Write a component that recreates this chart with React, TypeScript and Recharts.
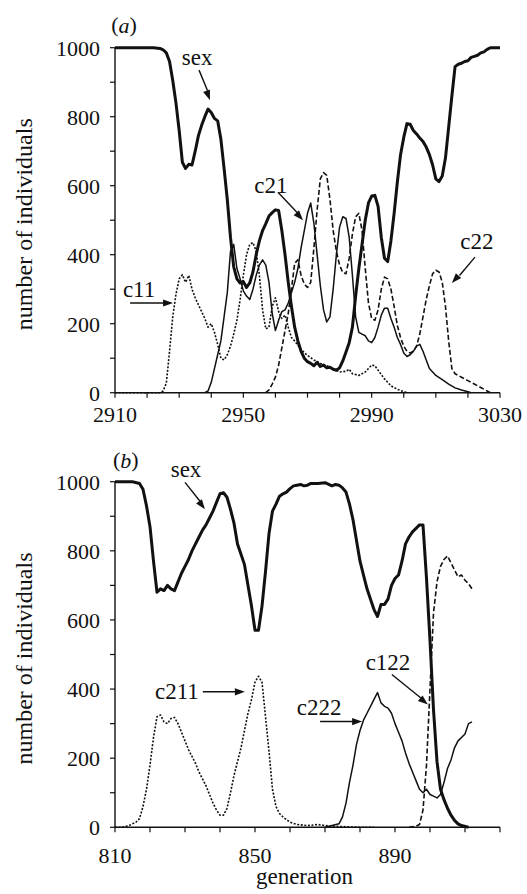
import { LineChart, Line, XAxis, YAxis, ReferenceLine, ReferenceDot } from 'recharts';

const FONT = "'Liberation Serif', 'Times New Roman', Times, serif";
const INK = '#111';

type Pt = [number, number];

// shared y axis
const yTicks = [0, 100, 200, 300, 400, 500, 600, 700, 800, 900, 1000];
const yLabels = [0, 200, 400, 600, 800, 1000];

// panel (a)
const ticksA = [2910, 2920, 2930, 2940, 2950, 2960, 2970, 2980, 2990, 3000, 3010, 3020, 3030];
const labelsA = [2910, 2950, 2990, 3030];

const sexA: Pt[] = [
  [2910, 1000], [2916, 1000], [2922, 1000], [2924, 998], [2925, 994], [2926, 985], [2927, 960], [2928, 905],
  [2929, 840], [2930, 760], [2931, 668], [2932, 650], [2933, 662], [2934, 660], [2935, 700], [2936, 745],
  [2937, 775], [2938, 800], [2939, 822], [2940, 812], [2941, 795], [2942, 788], [2943, 735], [2944, 650],
  [2945, 560], [2946, 450], [2947, 365], [2948, 330], [2949, 318], [2950, 322], [2951, 305], [2952, 318],
  [2953, 350], [2954, 400], [2955, 440], [2956, 470], [2957, 490], [2958, 512], [2959, 522], [2960, 530],
  [2961, 528], [2962, 470], [2963, 400], [2964, 320], [2965, 250], [2966, 190], [2967, 150], [2968, 120],
  [2969, 100], [2970, 90], [2971, 85], [2972, 78], [2973, 88], [2974, 76], [2975, 80], [2976, 72],
  [2977, 74], [2978, 68], [2979, 65], [2980, 72], [2981, 92], [2982, 118], [2983, 145], [2984, 190],
  [2985, 280], [2986, 360], [2987, 430], [2988, 500], [2989, 550], [2990, 570], [2991, 572], [2992, 540],
  [2993, 450], [2994, 390], [2995, 380], [2996, 440], [2997, 520], [2998, 610], [2999, 690], [3000, 740],
  [3001, 780], [3002, 778], [3003, 760], [3004, 750], [3005, 738], [3006, 728], [3007, 712], [3008, 690],
  [3009, 660], [3010, 620], [3011, 612], [3012, 628], [3013, 680], [3014, 770], [3015, 860], [3016, 945],
  [3017, 952], [3018, 955], [3019, 960], [3020, 962], [3021, 972], [3022, 975], [3023, 978], [3024, 985],
  [3025, 988], [3026, 995], [3027, 1000], [3030, 1000],
];

const c11A: Pt[] = [
  [2910, 0], [2920, 0], [2924, 0], [2925, 5], [2926, 28], [2927, 120], [2928, 220], [2929, 285],
  [2930, 330], [2931, 342], [2932, 320], [2933, 340], [2934, 300], [2935, 275], [2936, 255], [2937, 235],
  [2938, 215], [2939, 190], [2940, 200], [2941, 175], [2942, 140], [2943, 100], [2944, 95], [2945, 110],
  [2946, 135], [2947, 170], [2948, 210], [2949, 270], [2950, 340], [2951, 400], [2952, 430], [2953, 435],
  [2954, 410], [2955, 340], [2956, 240], [2957, 185], [2958, 190], [2959, 250], [2960, 275], [2961, 235],
  [2962, 215], [2963, 225], [2964, 190], [2965, 160], [2966, 150], [2968, 125], [2970, 108], [2972, 95],
  [2974, 85], [2976, 78], [2978, 70], [2980, 60], [2982, 62], [2983, 68], [2984, 55], [2986, 50],
  [2988, 60], [2990, 80], [2991, 78], [2992, 65], [2994, 40], [2996, 20], [2998, 10], [3000, 3],
  [3001, 0],
];

const c21A: Pt[] = [
  [2938, 0], [2939, 5], [2940, 30], [2941, 70], [2942, 110], [2943, 150], [2944, 220], [2945, 290],
  [2946, 410], [2947, 430], [2948, 360], [2949, 330], [2950, 295], [2951, 280], [2952, 270], [2953, 300],
  [2954, 340], [2955, 370], [2956, 385], [2957, 370], [2958, 320], [2959, 230], [2960, 180], [2961, 210],
  [2962, 235], [2963, 240], [2964, 260], [2965, 290], [2966, 320], [2967, 360], [2968, 420], [2969, 470],
  [2970, 520], [2971, 550], [2972, 490], [2973, 400], [2974, 310], [2975, 240], [2976, 205], [2977, 220],
  [2978, 300], [2979, 400], [2980, 480], [2981, 510], [2982, 505], [2983, 450], [2984, 340], [2985, 220],
  [2986, 175], [2987, 170], [2988, 165], [2989, 150], [2990, 145], [2991, 160], [2992, 190], [2993, 225],
  [2994, 245], [2995, 245], [2996, 215], [2997, 190], [2998, 160], [2999, 140], [3000, 115], [3001, 105],
  [3002, 110], [3003, 120], [3004, 135], [3005, 140], [3006, 120], [3007, 95], [3008, 70], [3009, 60],
  [3010, 50], [3012, 38], [3014, 25], [3016, 14], [3018, 8], [3020, 3], [3021, 0],
];

const c22A: Pt[] = [
  [2957, 0], [2958, 8], [2959, 25], [2960, 45], [2961, 80], [2962, 130], [2963, 180], [2964, 230],
  [2965, 300], [2966, 375], [2967, 385], [2968, 340], [2969, 315], [2970, 305], [2971, 320], [2972, 420],
  [2973, 530], [2974, 620], [2975, 638], [2976, 630], [2977, 560], [2978, 470], [2979, 410], [2980, 370],
  [2981, 348], [2982, 345], [2983, 390], [2984, 460], [2985, 510], [2986, 520], [2987, 470], [2988, 360],
  [2989, 260], [2990, 215], [2991, 210], [2992, 240], [2993, 300], [2994, 335], [2995, 330], [2996, 300],
  [2997, 250], [2998, 195], [2999, 160], [3000, 135], [3001, 120], [3002, 115], [3003, 120], [3004, 135],
  [3005, 170], [3006, 220], [3007, 270], [3008, 310], [3009, 345], [3010, 355], [3011, 350], [3012, 320],
  [3013, 250], [3014, 150], [3015, 70], [3016, 55], [3017, 50], [3018, 45], [3020, 35], [3022, 25],
  [3024, 15], [3026, 5], [3027, 0],
];

// panel (b)
const ticksB = [810, 820, 830, 840, 850, 860, 870, 880, 890, 900, 910, 920];
const labelsB = [810, 850, 890];

const sexB: Pt[] = [
  [810, 1000], [815, 1000], [817, 995], [818, 978], [819, 930], [820, 870], [821, 770], [822, 680],
  [823, 690], [824, 685], [825, 700], [826, 690], [827, 685], [828, 710], [829, 735], [830, 755],
  [831, 775], [832, 800], [833, 820], [834, 840], [835, 860], [836, 875], [837, 895], [838, 915],
  [839, 940], [840, 965], [841, 968], [842, 955], [843, 920], [844, 880], [845, 820], [846, 790],
  [847, 760], [848, 700], [849, 640], [850, 570], [851, 570], [852, 640], [853, 740], [854, 850],
  [855, 915], [856, 935], [857, 958], [858, 965], [859, 970], [860, 980], [861, 988], [862, 990],
  [863, 992], [864, 988], [865, 990], [866, 995], [868, 995], [870, 997], [872, 988], [873, 992],
  [874, 990], [875, 982], [876, 970], [877, 935], [878, 890], [879, 830], [880, 770], [881, 730],
  [882, 690], [883, 660], [884, 630], [885, 610], [886, 645], [887, 645], [888, 660], [889, 700],
  [890, 720], [891, 730], [892, 770], [893, 820], [894, 840], [895, 855], [896, 865], [897, 875],
  [898, 875], [899, 720], [900, 540], [901, 340], [902, 190], [903, 110], [904, 80], [905, 55],
  [906, 35], [907, 20], [908, 10], [909, 5], [911, 0],
];

const c211B: Pt[] = [
  [810, 0], [812, 0], [814, 5], [816, 15], [817, 25], [818, 60], [819, 110], [820, 180],
  [821, 260], [822, 320], [823, 325], [824, 305], [825, 300], [826, 315], [827, 318], [828, 300],
  [829, 275], [830, 250], [831, 225], [832, 205], [833, 185], [834, 160], [835, 140], [836, 120],
  [837, 95], [838, 70], [839, 50], [840, 35], [841, 35], [842, 55], [843, 100], [844, 150],
  [845, 190], [846, 230], [847, 280], [848, 330], [849, 370], [850, 420], [851, 437], [852, 420],
  [853, 320], [854, 220], [855, 110], [856, 60], [857, 40], [858, 30], [859, 22], [860, 15],
  [862, 8], [865, 5], [868, 8], [870, 5], [872, 3], [875, 2], [880, 0], [884, 0],
];

const c222B: Pt[] = [
  [870, 0], [872, 5], [874, 10], [875, 30], [876, 70], [877, 130], [878, 180], [879, 240],
  [880, 280], [881, 310], [882, 330], [883, 350], [884, 370], [885, 390], [886, 360], [887, 350],
  [888, 345], [889, 330], [890, 300], [891, 275], [892, 250], [893, 215], [894, 185], [895, 160],
  [896, 135], [897, 110], [898, 100], [899, 110], [900, 95], [901, 90], [902, 85], [903, 95],
  [904, 130], [905, 170], [906, 195], [907, 230], [908, 250], [909, 260], [910, 270], [911, 300],
  [912, 305],
];

const c122B: Pt[] = [
  [894, 0], [896, 3], [897, 8], [898, 50], [899, 180], [900, 400], [901, 620], [902, 710],
  [903, 755], [904, 775], [905, 785], [906, 765], [907, 745], [908, 725], [909, 730], [910, 715],
  [911, 705], [912, 690],
];

type Note = { text: string; at: Pt; from: Pt; to: Pt };

const notesA: Note[] = [
  { text: 'sex', at: [2935.6, 973], from: [2936.2, 935], to: [2939.6, 848] },
  { text: 'c21', at: [2958.6, 602], from: [2960.8, 581], to: [2968.6, 500] },
  { text: 'c22', at: [3022.8, 437], from: [3022.2, 393], to: [3015, 318] },
  { text: 'c11', at: [2917.5, 298], from: [2914.7, 260], to: [2928.1, 260] },
];

const notesB: Note[] = [
  { text: 'sex', at: [830.3, 1036], from: [830, 998], to: [835.7, 920] },
  { text: 'c211', at: [827.7, 392], from: [835.1, 392], to: [847.1, 392] },
  { text: 'c222', at: [868.3, 346], from: [868.6, 306], to: [880.6, 306] },
  { text: 'c122', at: [888, 476], from: [889.1, 442], to: [899.4, 355] },
];

type Series = { id: string; data: Pt[]; width: number; dash?: string };

const seriesA: Series[] = [
  { id: 'c11', data: c11A, width: 1.6, dash: '2 1.6' },
  { id: 'c22', data: c22A, width: 1.6, dash: '5 2.5' },
  { id: 'c21', data: c21A, width: 1.5 },
  { id: 'sex', data: sexA, width: 3 },
];

const seriesB: Series[] = [
  { id: 'c211', data: c211B, width: 1.6, dash: '2 1.6' },
  { id: 'c122', data: c122B, width: 1.6, dash: '5 2.5' },
  { id: 'c222', data: c222B, width: 1.5 },
  { id: 'sex', data: sexB, width: 3 },
];

function Arrow(p: any) {
  const { x1, y1, x2, y2 } = p;
  const a = Math.atan2(y2 - y1, x2 - x1);
  const len = 10;
  const half = 3.6;
  const bx = x2 - len * Math.cos(a);
  const by = y2 - len * Math.sin(a);
  const pts = `${x2},${y2} ${bx + half * Math.sin(a)},${by - half * Math.cos(a)} ${bx - half * Math.sin(a)},${by + half * Math.cos(a)}`;
  return (
    <g>
      <line x1={x1} y1={y1} x2={bx + 1} y2={by} stroke={INK} strokeWidth={1.4} />
      <polygon points={pts} fill={INK} />
    </g>
  );
}

interface PanelProps {
  top: number;
  height: number;
  margin: { top: number; right: number; bottom: number; left: number };
  domain: [number, number];
  ticks: number[];
  labels: number[];
  series: Series[];
  notes: Note[];
  tag: string;
  tagAt: Pt;
  tickGap: number;
  xAxisHeight: number;
  xTitle?: string;
}

function Panel({ top, height, margin, domain, ticks, labels, series, notes, tag, tagAt, tickGap, xAxisHeight, xTitle }: PanelProps) {
  const tickStyle = { fill: INK, fontSize: 22, fontFamily: FONT };
  return (
    <div style={{ position: 'absolute', left: 0, top }}>
      <LineChart width={527} height={height} margin={margin}>
        <XAxis
          type="number"
          dataKey="0"
          domain={domain}
          ticks={ticks}
          interval={0}
          tickFormatter={(v: number) => (labels.includes(v) ? String(v) : '')}
          tick={tickStyle}
          tickSize={5}
          tickMargin={tickGap}
          height={xAxisHeight}
          axisLine={{ stroke: INK, strokeWidth: 1.6 }}
          tickLine={{ stroke: INK, strokeWidth: 1.2 }}
          label={
            xTitle
              ? (props: any) => {
                  const vb = props.viewBox;
                  return (
                    <text x={vb.x + vb.width / 2 - 3} y={vb.y + 57} textAnchor="middle" fontFamily={FONT} fontSize={23} fill={INK}>
                      {xTitle}
                    </text>
                  );
                }
              : undefined
          }
        />
        <YAxis
          type="number"
          domain={[0, 1000]}
          ticks={yTicks}
          interval={0}
          tickFormatter={(v: number) => (yLabels.includes(v) ? String(v) : '')}
          tick={tickStyle}
          tickSize={5}
          tickMargin={10}
          width={115}
          axisLine={{ stroke: INK, strokeWidth: 1.4 }}
          tickLine={{ stroke: INK, strokeWidth: 1.2 }}
          label={(props: any) => {
            const vb = props.viewBox;
            const cy = vb.y + vb.height / 2 + 4;
            return (
              <text
                x={24}
                y={cy}
                transform={`rotate(-90, 24, ${cy})`}
                textAnchor="middle"
                dominantBaseline="central"
                fontFamily={FONT}
                fontSize={24}
                fill={INK}
              >
                number of individuals
              </text>
            );
          }}
        />
        {series.map((s) => (
          <Line
            key={s.id}
            data={s.data}
            dataKey="1"
            type="linear"
            stroke={INK}
            strokeWidth={s.width}
            strokeDasharray={s.dash}
            strokeLinejoin="round"
            dot={false}
            activeDot={false}
            isAnimationActive={false}
          />
        ))}
        {notes.map((n) => (
          <ReferenceLine
            key={`arrow-${n.text}`}
            segment={[{ x: n.from[0], y: n.from[1] }, { x: n.to[0], y: n.to[1] }]}
            ifOverflow="visible"
            shape={Arrow}
          />
        ))}
        {notes.map((n) => (
          <ReferenceDot
            key={`label-${n.text}`}
            x={n.at[0]}
            y={n.at[1]}
            r={1}
            ifOverflow="visible"
            shape={(p: any) => (
              <text x={p.cx} y={p.cy} textAnchor="middle" dominantBaseline="central" fontFamily={FONT} fontSize={23} fill={INK}>
                {n.text}
              </text>
            )}
          />
        ))}
        <ReferenceDot
          x={tagAt[0]}
          y={tagAt[1]}
          r={1}
          ifOverflow="visible"
          shape={(p: any) => (
            <text x={p.cx} y={p.cy} textAnchor="middle" dominantBaseline="central" fontFamily={FONT} fontSize={22} fill={INK}>
              (<tspan fontStyle="italic">{tag}</tspan>)
            </text>
          )}
        />
      </LineChart>
    </div>
  );
}

export default function App() {
  return (
    <div style={{ position: 'absolute', left: 0, top: 0, width: 527, height: 894, background: '#fff' }}>
      <Panel
        top={0}
        height={440}
        margin={{ top: 47.7, right: 27, bottom: 7.3, left: 0 }}
        domain={[2910, 3030]}
        ticks={ticksA}
        labels={labelsA}
        series={seriesA}
        notes={notesA}
        tag="a"
        tagAt={[2912.8, 1066]}
        tickGap={9}
        xAxisHeight={40}
      />
      <Panel
        top={440}
        height={454}
        margin={{ top: 41.7, right: 27, bottom: 6.7, left: 0 }}
        domain={[810, 920]}
        ticks={ticksB}
        labels={labelsB}
        series={seriesB}
        notes={notesB}
        tag="b"
        tagAt={[813.1, 1063]}
        tickGap={15}
        xAxisHeight={60}
        xTitle="generation"
      />
    </div>
  );
}
